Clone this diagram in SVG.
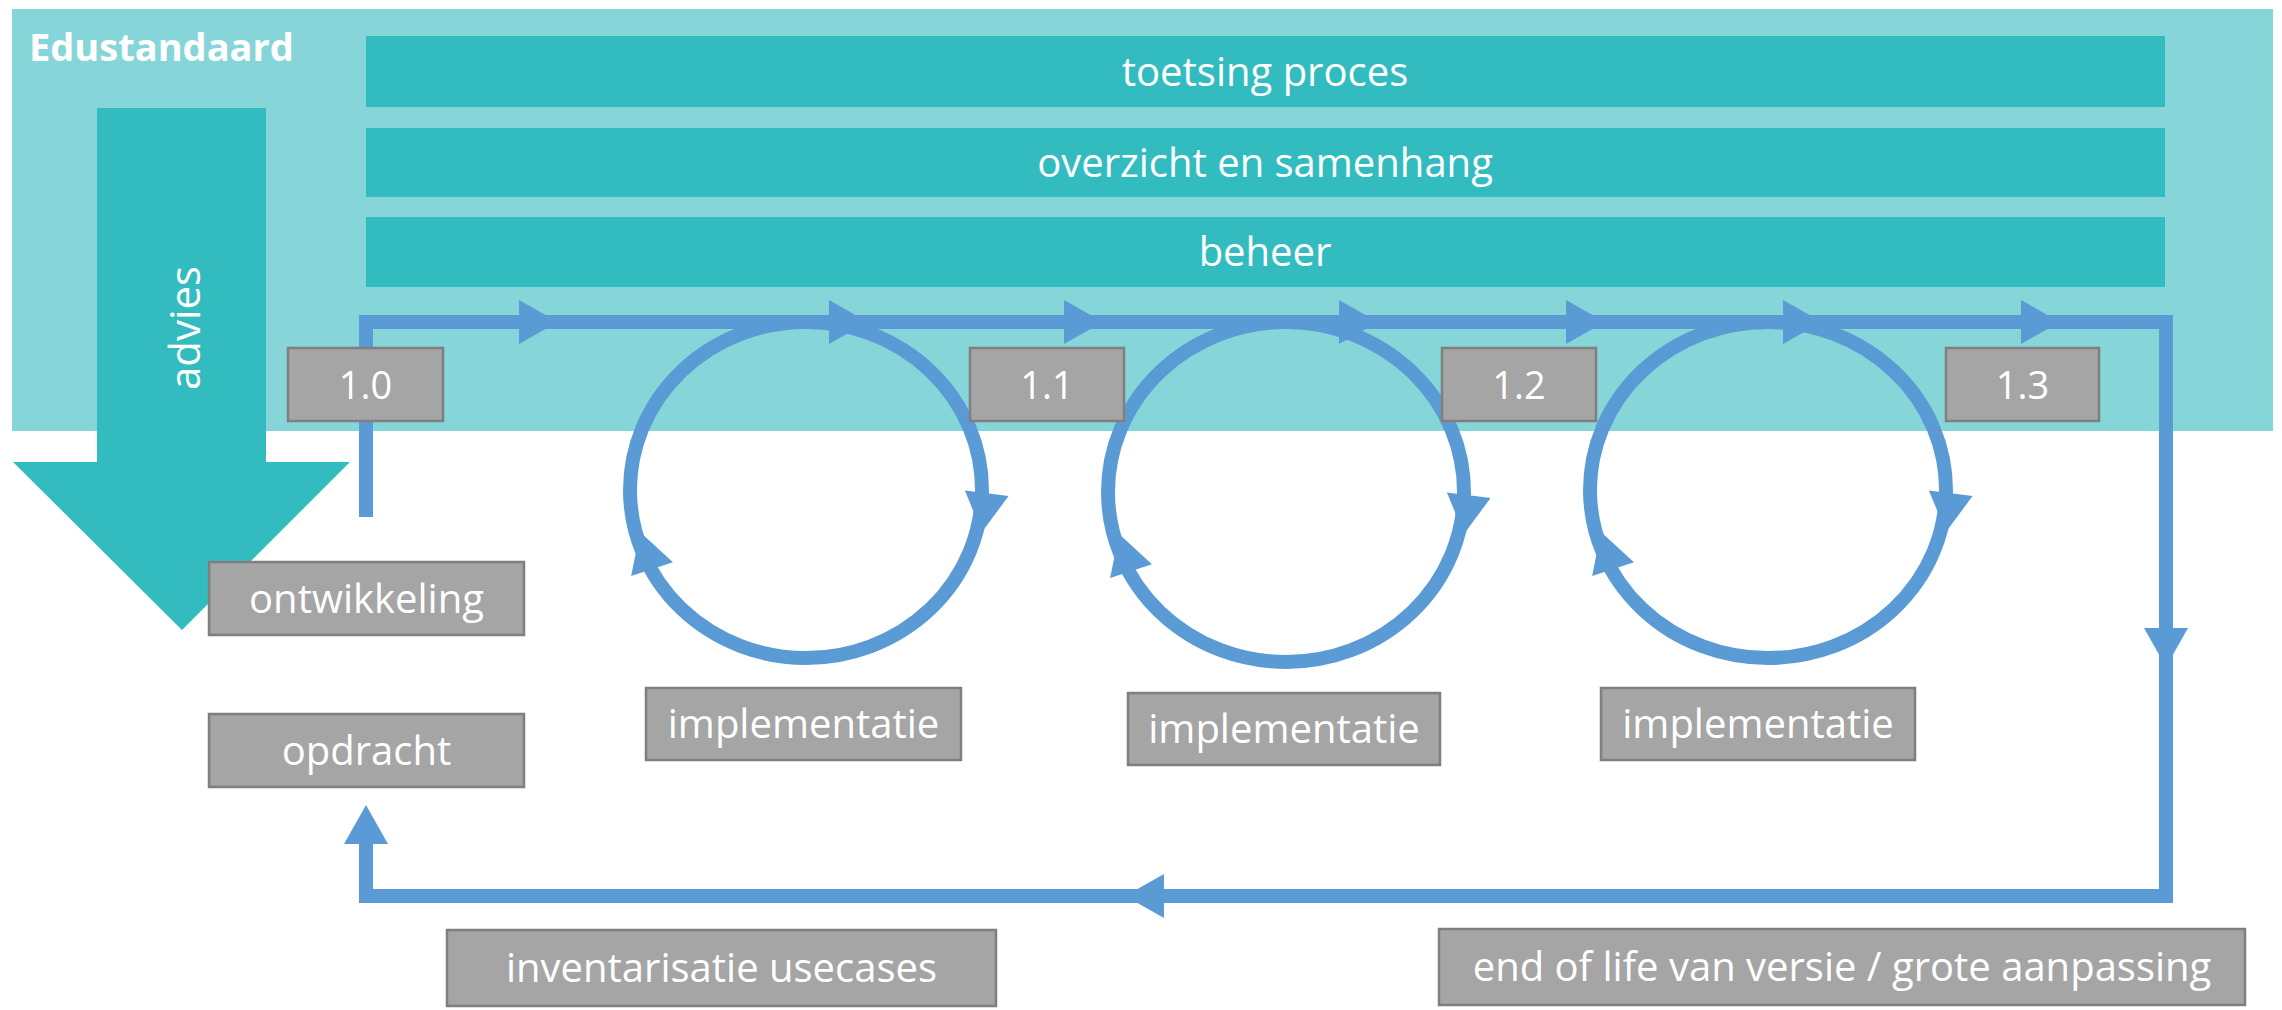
<svg xmlns="http://www.w3.org/2000/svg" xmlns:xlink="http://www.w3.org/1999/xlink" width="2282" height="1010" viewBox="0 0 2282 1010">
<style>
.bar{fill:#33BCC0}
.bt{font-family:"Open Sans","Liberation Sans",sans-serif;font-size:40px;fill:#fff;text-anchor:middle}
.box{fill:#A5A5A5;stroke:#7F7F7F;stroke-width:2.5}
.lbl{font-family:"Open Sans","Liberation Sans",sans-serif;font-size:40px;fill:#fff;text-anchor:middle}
.ver{font-family:"Open Sans","Liberation Sans",sans-serif;font-size:38px;fill:#fff;text-anchor:middle}
.flow{fill:none;stroke:#5B9BD5;stroke-width:14}
</style>
<defs>
<path id="ah" d="M0,0 L-39,-22 L-39,22 Z" fill="#5B9BD5"/>
</defs>
<rect x="0" y="0" width="2282" height="1010" fill="#fff"/>
<g id="edustandaard">
<rect x="12" y="9" width="2261" height="422" fill="#86D5D8"/>
<text x="29" y="61" font-family="'Open Sans','Liberation Sans',sans-serif" font-size="38" font-weight="bold" fill="#fff">Edustandaard</text>
</g>
<g id="toetsing"><rect class="bar" x="366" y="36" width="1799" height="71"/><text class="bt" x="1265" y="86">toetsing proces</text></g>
<g id="overzicht"><rect class="bar" x="366" y="128" width="1799" height="69"/><text class="bt" x="1265" y="177">overzicht en samenhang</text></g>
<g id="beheer"><rect class="bar" x="366" y="217" width="1799" height="70"/><text class="bt" x="1265" y="266">beheer</text></g>
<g id="advies">
<path d="M97,108 H266 V462 H350 L182,630 L13,462 H97 Z" fill="#33BCC0"/>
<text x="200" y="328" transform="rotate(-90 200 328)" font-family="'Open Sans','Liberation Sans',sans-serif" font-size="42" fill="#fff" text-anchor="middle">advies</text>
</g>
<g id="connectors">
<path class="flow" d="M366,517 V322 H2166 V896 H366 V820"/>
<use xlink:href="#ah" transform="translate(558,322)"/>
<use xlink:href="#ah" transform="translate(868,322)"/>
<use xlink:href="#ah" transform="translate(1103,322)"/>
<use xlink:href="#ah" transform="translate(1378,322)"/>
<use xlink:href="#ah" transform="translate(1605,322)"/>
<use xlink:href="#ah" transform="translate(1822,322)"/>
<use xlink:href="#ah" transform="translate(2060,322)"/>
<use xlink:href="#ah" transform="translate(2166,667) rotate(90)"/>
<use xlink:href="#ah" transform="translate(1125,896) rotate(180)"/>
<use xlink:href="#ah" transform="translate(366,805) rotate(-90)"/>
<ellipse class="flow" cx="806" cy="490" rx="176" ry="168"/>
<ellipse class="flow" cx="1286" cy="492" rx="178" ry="170"/>
<ellipse class="flow" cx="1768" cy="490" rx="178" ry="168"/>
<use xlink:href="#ah" transform="translate(982,532) rotate(97)"/>
<use xlink:href="#ah" transform="translate(640,532) rotate(-108)"/>
<use xlink:href="#ah" transform="translate(1464,534) rotate(97)"/>
<use xlink:href="#ah" transform="translate(1119,534) rotate(-108)"/>
<use xlink:href="#ah" transform="translate(1946,532) rotate(97)"/>
<use xlink:href="#ah" transform="translate(1601,532) rotate(-108)"/>
</g>
<g id="v10"><rect class="box" x="288" y="348" width="155" height="73"/><text class="ver" x="365.5" y="399">1.0</text></g>
<g id="v11"><rect class="box" x="970" y="348" width="154" height="73"/><text class="ver" x="1047" y="399">1.1</text></g>
<g id="v12"><rect class="box" x="1442" y="348" width="154" height="73"/><text class="ver" x="1519" y="399">1.2</text></g>
<g id="v13"><rect class="box" x="1946" y="348" width="153" height="73"/><text class="ver" x="2022.5" y="399">1.3</text></g>
<g id="ontwikkeling"><rect class="box" x="209" y="562" width="315" height="73"/><text class="lbl" x="366.5" y="613">ontwikkeling</text></g>
<g id="opdracht"><rect class="box" x="209" y="714" width="315" height="73"/><text class="lbl" x="366.5" y="765">opdracht</text></g>
<g id="impl1"><rect class="box" x="646" y="688" width="315" height="72"/><text class="lbl" x="803.5" y="738">implementatie</text></g>
<g id="impl2"><rect class="box" x="1128" y="693" width="312" height="72"/><text class="lbl" x="1284" y="743">implementatie</text></g>
<g id="impl3"><rect class="box" x="1601" y="688" width="314" height="72"/><text class="lbl" x="1758" y="738">implementatie</text></g>
<g id="inventarisatie"><rect class="box" x="447" y="930" width="549" height="76"/><text class="lbl" x="721.5" y="982">inventarisatie usecases</text></g>
<g id="endoflife"><rect class="box" x="1439" y="929" width="806" height="76"/><text class="lbl" x="1842" y="981">end of life van versie / grote aanpassing</text></g>
</svg>
